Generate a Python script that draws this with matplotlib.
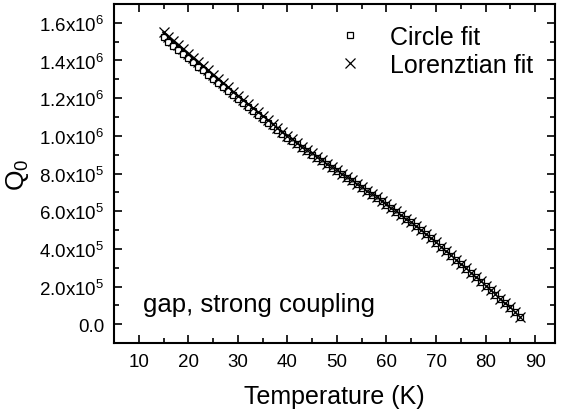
import numpy as np
import matplotlib
matplotlib.use("Agg")
import matplotlib.pyplot as plt

plt.rcParams['font.family'] = ['Liberation Sans', 'DejaVu Sans']
plt.rcParams['mathtext.fontset'] = 'custom'
plt.rcParams['mathtext.rm'] = 'Liberation Sans'
plt.rcParams['mathtext.it'] = 'Liberation Sans'

# temperature (K)
temperatura = [15, 16, 17, 18, 19, 20, 21, 22, 23, 24, 25, 26, 27, 28, 29, 30,
               31, 32, 33, 34, 35, 36, 37, 38, 39, 40, 41, 42, 43, 44, 45, 46,
               47, 48, 49, 50, 51, 52, 53, 54, 55, 56, 57, 58, 59, 60, 61, 62,
               63, 64, 65, 66, 67, 68, 69, 70, 71, 72, 73, 74, 75, 76, 77, 78,
               79, 80, 81, 82, 83, 84, 85, 86, 87]

# Q0 from the Lorentzian fit (units of 1e6)
q_lorentz = [1.550, 1.527, 1.504, 1.482, 1.459, 1.437, 1.414, 1.392, 1.369, 1.347,
             1.324, 1.302, 1.279, 1.257, 1.234, 1.212, 1.190, 1.168, 1.146, 1.124,
             1.103, 1.082, 1.061, 1.040, 1.020, 1.000, 0.981, 0.962, 0.943, 0.925,
             0.907, 0.889, 0.871, 0.853, 0.835, 0.817, 0.799, 0.781, 0.763, 0.745,
             0.727, 0.709, 0.691, 0.673, 0.655, 0.637, 0.618, 0.599, 0.580, 0.561,
             0.541, 0.520, 0.499, 0.478, 0.456, 0.434, 0.411, 0.388, 0.365, 0.342,
             0.319, 0.296, 0.273, 0.250, 0.227, 0.204, 0.181, 0.158, 0.135, 0.112,
             0.089, 0.066, 0.040]

# Q0 from the circle fit (units of 1e6)
q_circulo = [1.522, 1.500, 1.478, 1.456, 1.434, 1.412, 1.390, 1.368, 1.347, 1.325,
             1.303, 1.281, 1.259, 1.238, 1.216, 1.195, 1.174, 1.153, 1.132, 1.111,
             1.090, 1.070, 1.050, 1.030, 1.010, 0.991, 0.972, 0.954, 0.936, 0.918,
             0.900, 0.883, 0.865, 0.848, 0.830, 0.812, 0.795, 0.777, 0.759, 0.742,
             0.724, 0.706, 0.688, 0.670, 0.653, 0.635, 0.616, 0.597, 0.578, 0.559,
             0.540, 0.519, 0.498, 0.477, 0.455, 0.433, 0.410, 0.387, 0.364, 0.341,
             0.318, 0.295, 0.272, 0.249, 0.226, 0.203, 0.180, 0.157, 0.134, 0.111,
             0.088, 0.065, 0.039]

yticks = [0.0, 0.2, 0.4, 0.6, 0.8, 1.0, 1.2, 1.4, 1.6]
ytick_labels = ['0.0', r'2.0x10$^5$', r'4.0x10$^5$', r'6.0x10$^5$', r'8.0x10$^5$',
                r'1.0x10$^6$', r'1.2x10$^6$', r'1.4x10$^6$', r'1.6x10$^6$']
xticks = [10, 20, 30, 40, 50, 60, 70, 80, 90]

fig = plt.figure(figsize=(5.61, 4.14), dpi=100)
ax = fig.add_axes([0.2032, 0.169, 0.786, 0.819])

T = np.array(temperatura)
ax.plot(T, np.array(q_lorentz), color='black', lw=1.8, zorder=2)
ax.plot(T, np.array(q_circulo), linestyle='none', marker='s', ms=5,
        mfc='white', mec='black', mew=0.9, label='Circle fit', zorder=3)
ax.plot(T, np.array(q_lorentz), linestyle='none', marker='x', ms=7,
        color='black', mew=0.9, label='Lorenztian fit', zorder=4)

ax.set_xlim(5, 94)
ax.set_ylim(-0.1, 1.7)
ax.set_xticks(xticks)
ax.set_xticks(np.arange(15, 95, 10), minor=True)
ax.set_yticks(yticks)
ax.set_yticklabels(ytick_labels)
ax.set_yticks(np.arange(0.1, 1.7, 0.2), minor=True)

ax.tick_params(which='both', direction='in', top=True, right=True, width=1.2)
ax.tick_params(which='major', length=6, labelsize=13.5, pad=7)
ax.tick_params(which='minor', length=3.5)
for s in ax.spines.values():
    s.set_linewidth(1.5)

ax.set_xlabel('Temperature (K)', fontsize=18, labelpad=10)
ax.set_ylabel(r'Q$_0$', fontsize=19, labelpad=6)

ax.legend(loc='upper right', fontsize=18, frameon=False, handletextpad=1.0,
          borderaxespad=0.3, labelspacing=0.15, handlelength=1.2,
          bbox_to_anchor=(0.99, 0.99))
ax.text(0.066, 0.115, 'gap, strong coupling', transform=ax.transAxes,
        fontsize=18.5, va='center', ha='left')

fig.savefig('out.png', dpi=100)
